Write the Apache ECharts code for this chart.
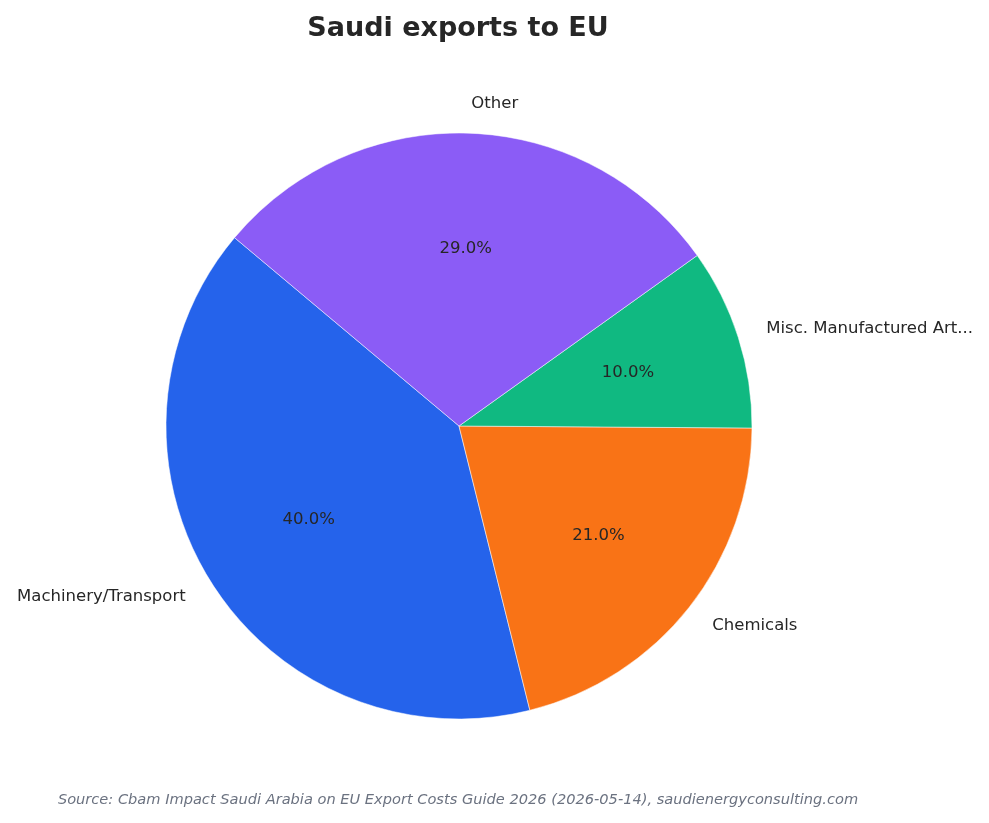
<!DOCTYPE html>
<html>
<head>
<meta charset="utf-8">
<script src="https://cdn.jsdelivr.net/npm/echarts@6/dist/echarts.min.js"></script>
<style>
  html, body { margin: 0; padding: 0; background: #fff; }
  #chart { width: 989px; height: 823px; }
</style>
</head>
<body>
<div id="chart"></div>
<script>
// data
const categories = ['Machinery/Transport', 'Chemicals', 'Misc. Manufactured Art...', 'Other'];
const shares = [40, 21, 10, 29];
const colors = ['#2563eb', '#f97316', '#10b981', '#8b5cf6'];

const cx = 459, cy = 426, r = 293;

const pieData = categories.map((name, i) => ({ name: name, value: shares[i] }));

const myChart = echarts.init(document.getElementById('chart'));
myChart.setOption({
  animation: false,
  title: {
    text: 'Saudi exports to EU',
    left: 453,
    top: 10,
    textAlign: 'center',
    textStyle: { fontFamily: 'DejaVu Sans', fontWeight: 'bold', fontSize: 27, color: '#262626' }
  },
  graphic: [{
    type: 'text',
    x: 458,
    y: 800,
    style: {
      text: 'Source: Cbam Impact Saudi Arabia on EU Export Costs Guide 2026 (2026-05-14), saudienergyconsulting.com',
      font: 'italic 14.6px "DejaVu Sans"',
      fill: '#6b7280',
      align: 'center',
      verticalAlign: 'middle'
    }
  }],
  color: colors,
  series: [
    {
      // the slices with outside name labels
      type: 'pie',
      center: [cx, cy],
      radius: [0, r],
      startAngle: 140,
      clockwise: false,
      avoidLabelOverlap: false,
      silent: true,
      data: pieData,
      itemStyle: { borderColor: '#ffffff', borderWidth: 0.5 },
      label: {
        show: true,
        position: 'outside',
        formatter: '{b}',
        fontFamily: 'DejaVu Sans',
        fontSize: 16.5,
        color: '#262626',
        distanceToLabelLine: 0
      },
      labelLine: { show: false, length: r * 0.1, length2: 0 }
    },
    {
      // transparent ring so percentages sit at 0.6 r
      type: 'pie',
      center: [cx, cy],
      radius: [r * 0.19, r],
      startAngle: 140,
      clockwise: false,
      silent: true,
      data: pieData,
      itemStyle: { color: 'rgba(0,0,0,0)' },
      label: {
        show: true,
        position: 'inside',
        formatter: p => p.percent.toFixed(1) + '%',
        fontFamily: 'DejaVu Sans',
        fontSize: 16.5,
        color: '#262626'
      },
      labelLine: { show: false }
    }
  ]
});
</script>
</body>
</html>
